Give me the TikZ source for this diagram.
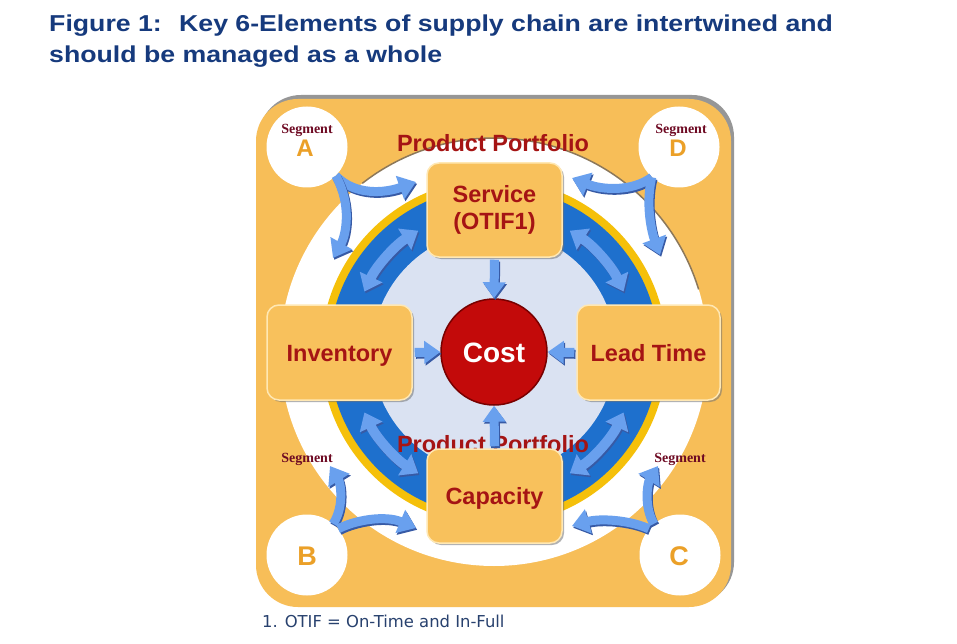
\documentclass[tikz,border=0pt]{standalone}
\usepackage{fontspec}
\setmainfont{Liberation Sans}
\newfontfamily\titlefont[FakeStretch=1.16]{Liberation Sans}
\newfontfamily\segfont{Liberation Serif}
\newfontfamily\footfont{DejaVu Sans}
\usetikzlibrary{arrows.meta,shadows,calc}
\definecolor{orangebg}{RGB}{247,190,88}
\definecolor{rimgray}{RGB}{150,150,150}
\definecolor{boxorange}{RGB}{248,193,92}
\definecolor{boxedge}{RGB}{255,232,180}
\definecolor{darkred}{RGB}{165,20,20}
\definecolor{costred}{RGB}{195,10,10}
\definecolor{costdark}{RGB}{120,0,0}
\definecolor{ringblue}{RGB}{30,112,205}
\definecolor{ringyellow}{RGB}{245,192,10}
\definecolor{lav}{RGB}{218,226,242}
\definecolor{arrowblue}{RGB}{105,160,238}
\definecolor{arrshade}{RGB}{55,90,165}
\definecolor{seglabel}{RGB}{110,10,35}
\definecolor{segletter}{RGB}{235,160,40}
\definecolor{titleblue}{RGB}{22,58,125}
\definecolor{footblue}{RGB}{40,65,110}
\definecolor{arcgray}{RGB}{140,120,90}
\newcommand\blarrow[2]{\draw[#1,draw=arrshade,transform canvas={shift={(1.2pt,-1.8pt)}}] #2;\draw[#1] #2;}
\begin{document}
\begin{tikzpicture}[x=1pt,y=-1pt,
  titletext/.style={anchor=base west,inner sep=0,text=titleblue,font=\titlefont\bfseries\fontsize{23}{27}\selectfont},
  boxnode/.style={rounded corners=12pt,fill=boxorange,draw=boxedge,line width=1.5pt,text=darkred,
     font=\bfseries\fontsize{23.5}{27}\selectfont,inner sep=0,align=center,
     drop shadow={shadow xshift=2pt,shadow yshift=-2pt,fill=black!55,opacity=.55}},
  onelinetext/.style={text height=17pt,text depth=0pt},
  pptext/.style={anchor=base,inner sep=0,text=darkred,font=\bfseries\fontsize{23.5}{27}\selectfont},
  segcircle/.style={circle,fill=white,minimum size=81pt,inner sep=0},
  seglab/.style={anchor=base,inner sep=0,text=seglabel,font=\segfont\bfseries\fontsize{14}{16}\selectfont},
  segletterA/.style={anchor=base,inner sep=0,text=segletter,font=\bfseries\fontsize{24}{26}\selectfont},
  segletterB/.style={anchor=base,inner sep=0,text=segletter,font=\bfseries\fontsize{27}{29}\selectfont},
  ringarr/.style={line width=10pt,draw=arrowblue,arrows={Triangle[width=24pt,length=16pt]-Triangle[width=24pt,length=16pt]}},
  segarr/.style={line width=9pt,draw=arrowblue,arrows={-Triangle[width=24pt,length=17pt]}},
  costarr/.style={line width=9pt,draw=arrowblue,arrows={-Triangle[width=22pt,length=16pt]},shorten <=2pt}
]
\useasboundingbox (0,0) rectangle (957,644);
\fill[white] (0,0) rectangle (957,644);

% title
\node[titletext] (title1) at (49,32) {Figure 1:~ Key 6-Elements of supply chain are intertwined and};
\node[titletext] (title2) at (49,63) {should be managed as a whole};

% background panel
\fill[rimgray,rounded corners=42pt] (259,95) rectangle (734,604);
\fill[orangebg,rounded corners=42pt] (256,99) rectangle (731,607);

% rings
\coordinate (O) at (494,352);
\fill[white] (O) circle[radius=214];
\draw[arcgray,line width=1.5pt] ($(O)+(-17:214)$) arc[start angle=-17,end angle=-128,radius=214];
\fill[ringyellow] (O) circle[radius=173];
\fill[ringblue] (O) circle[radius=165];
\fill[lav] (O) circle[radius=122];

% ring double arrows
\blarrow{ringarr}{($(O)+(-25:143)$) arc[start angle=-25,end angle=-58,radius=143]}
\blarrow{ringarr}{($(O)+(-122:143)$) arc[start angle=-122,end angle=-155,radius=143]}
\blarrow{ringarr}{($(O)+(-205:143)$) arc[start angle=-205,end angle=-238,radius=143]}
\blarrow{ringarr}{($(O)+(-302:143)$) arc[start angle=-302,end angle=-335,radius=143]}

% product portfolio labels
\node[pptext] (pp1) at (493,152) {Product Portfolio};
\node[pptext] (pp2) at (493,452) {Product Portfolio};

% boxes
\node[boxnode,minimum width=135pt,minimum height=94pt] (service) at (494.5,210) {Service\\(OTIF1)};
\node[boxnode,onelinetext,minimum width=145pt,minimum height=95pt] (inventory) at (339.5,352.5) {Inventory};
\node[boxnode,onelinetext,minimum width=143pt,minimum height=95pt] (leadtime) at (648.5,352.5) {Lead Time};
\node[boxnode,onelinetext,minimum width=135pt,minimum height=94pt] (capacity) at (494.5,496) {Capacity};

% cost
\node[circle,minimum size=106pt,inner sep=0,fill=costred,draw=costdark,line width=1.5pt,text=white,
  font=\bfseries\fontsize{28}{30}\selectfont,text height=20pt,text depth=0pt] (cost) at (494,352) {Cost};

% arrows into cost
\blarrow{costarr}{(service.south) -- (cost.north)}
\blarrow{costarr}{(inventory.east) -- (cost.west)}
\blarrow{costarr}{(leadtime.west) -- (cost.east)}
\blarrow{costarr}{(capacity.north) -- (cost.south)}

% segment circles
\node[segcircle] (A) at (307,147) {};
\node[segcircle] (D) at (679,147) {};
\node[segcircle] (B) at (307,555) {};
\node[segcircle] (C) at (680,555) {};
\node[seglab] (segA) at (307,134) {Segment};
\node[segletterA] (letA) at (305,157) {A};
\node[seglab] (segD) at (681,134) {Segment};
\node[segletterA] (letD) at (678,157) {D};
\node[seglab] (segB) at (307,462) {Segment};
\node[segletterB] (letB) at (307,565) {B};
\node[seglab] (segC) at (680,462) {Segment};
\node[segletterB] (letC) at (679,565) {C};

% segment arrow targets
\coordinate (aR) at (416,182);
\coordinate (aD) at (333,258);
\coordinate (dL) at (572,178);
\coordinate (dD) at (660,255);
\coordinate (bU) at (330,466);
\coordinate (bR) at (416,528);
\coordinate (cU) at (658,466);
\coordinate (cL) at (572,526);

\blarrow{segarr}{(A.-45) .. controls (355,196) and (385,193) .. (aR)}
\blarrow{segarr}{(A.-45) .. controls (352,205) and (346,235) .. (aD)}
\blarrow{segarr}{(D.-132) .. controls (632,192) and (602,190) .. (dL)}
\blarrow{segarr}{(D.-132) .. controls (645,205) and (652,233) .. (dD)}
\blarrow{segarr}{(B.50) .. controls (345,505) and (340,482) .. (bU)}
\blarrow{segarr}{(B.40) .. controls (355,520) and (385,515) .. (bR)}
\blarrow{segarr}{(C.130) .. controls (643,505) and (648,482) .. (cU)}
\blarrow{segarr}{(C.140) .. controls (630,520) and (600,518) .. (cL)}

% footnote
\node[anchor=base west,inner sep=0,text=footblue,font=\footfont\fontsize{16.4}{19}\selectfont] (fn) at (262,627) {1. OTIF = On-Time and In-Full};
\end{tikzpicture}
\end{document}
